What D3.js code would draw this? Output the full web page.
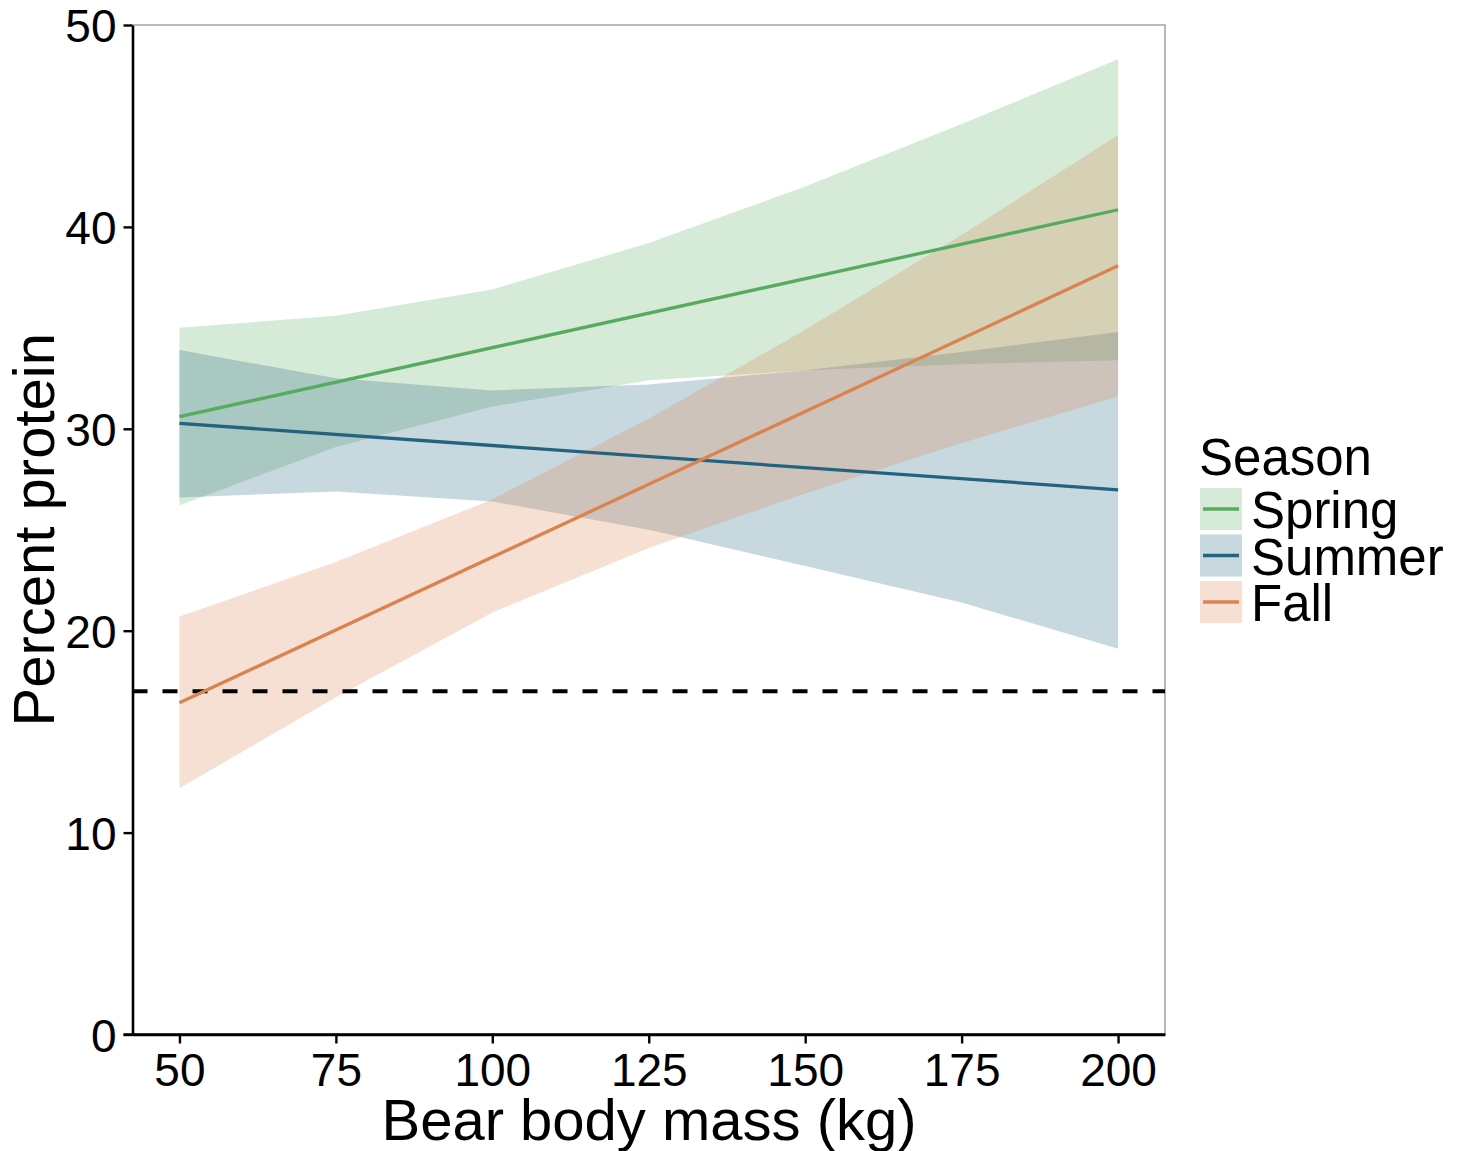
<!DOCTYPE html>
<html>
<head>
<meta charset="utf-8">
<script src="https://cdn.jsdelivr.net/npm/d3@7"></script>
<style>
  html, body { margin: 0; padding: 0; background: #fff; }
  svg { display: block; }
  text { font-family: "Liberation Sans", Arial, sans-serif; fill: #000; }
</style>
</head>
<body>
<svg id="chart" width="1468" height="1151"></svg>
<script>
// ---- data ----
const seasons = ["Spring", "Summer", "Fall"];
const seasonColors = ["#57ab5f", "#23637f", "#db834f"];
const massKnots = [50, 75, 100, 125, 150, 175, 200];
const springUpper = [35.0, 35.6, 36.9, 39.2, 42.0, 45.1, 48.3];
const springLower = [26.2, 29.1, 31.1, 32.4, 32.9, 33.2, 33.4];
const summerUpper = [33.9, 32.5, 31.9, 32.2, 32.9, 33.8, 34.8];
const summerLower = [26.6, 26.9, 26.4, 25.0, 23.2, 21.4, 19.1];
const fallUpper   = [20.7, 23.4, 26.5, 30.5, 34.9, 39.6, 44.55];
const fallLower   = [12.2, 16.7, 20.9, 24.1, 26.8, 29.3, 31.6];
const fitMass = [50, 200];
const springFit = [30.6, 40.85];
const summerFit = [30.27, 26.98];
const fallFit   = [16.43, 38.07];
const thresholdProtein = 17;
const xTicks = [50, 75, 100, 125, 150, 175, 200];
const yTicks = [0, 10, 20, 30, 40, 50];

// ---- layout ----
const svg = d3.select("#chart");
const pLeft = 132.5, pRight = 1165, pTop = 25, pBottom = 1034.5;
const x = d3.scaleLinear().domain([42.5, 207.5]).range([pLeft, pRight]);
const y = d3.scaleLinear().domain([0, 50]).range([pBottom, pTop]);

const bands = [
  { upper: springUpper, lower: springLower, fit: springFit },
  { upper: summerUpper, lower: summerLower, fit: summerFit },
  { upper: fallUpper,   lower: fallLower,   fit: fallFit }
];

// panel border (top/right gray)
svg.append("path")
  .attr("d", `M${pLeft},${pTop}H${pRight}V${pBottom}`)
  .attr("fill", "none").attr("stroke", "#a6a6a6").attr("stroke-width", 1.6);

// ribbons
const area = d3.area()
  .x((d, i) => x(massKnots[i]))
  .y0(d => y(d[1]))
  .y1(d => y(d[0]));
bands.forEach((b, k) => {
  const pts = b.upper.map((u, i) => [u, b.lower[i]]);
  svg.append("path")
    .attr("d", area(pts))
    .attr("fill", seasonColors[k])
    .attr("fill-opacity", 0.25);
});

// dashed threshold
svg.append("line")
  .attr("x1", pLeft).attr("x2", pRight)
  .attr("y1", y(thresholdProtein)).attr("y2", y(thresholdProtein))
  .attr("stroke", "#000").attr("stroke-width", 3.8)
  .attr("stroke-dasharray", "15,15");

// fit lines
const line = d3.line().x((d, i) => x(fitMass[i])).y(d => y(d));
bands.forEach((b, k) => {
  svg.append("path")
    .attr("d", line(b.fit))
    .attr("fill", "none")
    .attr("stroke", seasonColors[k])
    .attr("stroke-width", 3.3);
});

// axes
const xAxis = svg.append("g").attr("transform", `translate(0,${pBottom})`)
  .call(d3.axisBottom(x).tickValues(xTicks).tickSize(9).tickSizeOuter(0).tickPadding(8));
const yAxis = svg.append("g").attr("transform", `translate(${pLeft},0)`)
  .call(d3.axisLeft(y).tickValues(yTicks).tickSize(9).tickSizeOuter(0).tickPadding(6));
[xAxis, yAxis].forEach(g => {
  g.select(".domain").attr("stroke", "#000").attr("stroke-width", 2.6);
  g.selectAll(".tick line").attr("stroke", "#000").attr("stroke-width", 2.4);
  g.selectAll(".tick text")
    .style("font-family", '"Liberation Sans", Arial, sans-serif')
    .style("font-size", "46px").attr("fill", "#000");
});
// extend bottom axis line left to meet y tick at 0
svg.append("line").attr("x1", pLeft - 9).attr("x2", pRight)
  .attr("y1", pBottom).attr("y2", pBottom)
  .attr("stroke", "#000").attr("stroke-width", 2.6);
xAxis.selectAll(".tick text").attr("dy", "0").attr("y", 51);
yAxis.selectAll(".tick text").attr("dy", "0.36em").attr("x", -16);

// axis titles
svg.append("text")
  .attr("x", 649).attr("y", 1140)
  .attr("text-anchor", "middle")
  .style("font-size", "58px")
  .text("Bear body mass (kg)");
svg.append("text")
  .attr("transform", `translate(54,${(pTop + pBottom) / 2}) rotate(-90)`)
  .attr("text-anchor", "middle")
  .style("font-size", "58px")
  .text("Percent protein");

// legend
const lg = svg.append("g");
lg.append("text").attr("x", 1199).attr("y", 475)
  .style("font-size", "51px").text("Season");
seasons.forEach((s, k) => {
  const ky = 488 + k * 46.5;
  lg.append("rect").attr("x", 1200).attr("y", ky).attr("width", 42).attr("height", 42)
    .attr("fill", seasonColors[k]).attr("fill-opacity", 0.25);
  lg.append("line").attr("x1", 1203).attr("x2", 1239)
    .attr("y1", ky + 21).attr("y2", ky + 21)
    .attr("stroke", seasonColors[k]).attr("stroke-width", 3.3);
  lg.append("text").attr("x", 1251).attr("y", ky + 40)
    .style("font-size", "51px").text(s);
});
</script>
</body>
</html>
